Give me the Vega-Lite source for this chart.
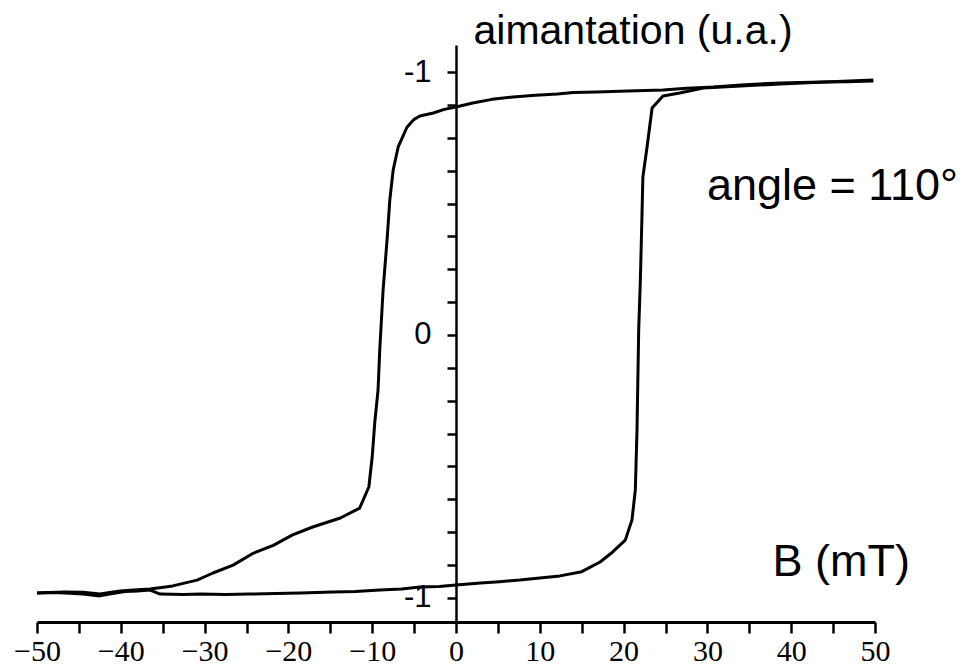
{
  "$schema": "https://vega.github.io/schema/vega-lite/v6.json",
  "width": 838,
  "height": 577,
  "autosize": {"type": "none"},
  "padding": {"left": 37, "top": 45, "right": 103, "bottom": 45},
  "background": "white",
  "config": {"view": {"stroke": null}},
  "layer": [
    {
      "data": {
        "values": [
          {"branche": "descente", "B": 49.8, "M": 0.966},
          {"branche": "descente", "B": 46.5, "M": 0.963},
          {"branche": "descente", "B": 44.0, "M": 0.962},
          {"branche": "descente", "B": 41.0, "M": 0.96},
          {"branche": "descente", "B": 38.7, "M": 0.958},
          {"branche": "descente", "B": 34.5, "M": 0.952},
          {"branche": "descente", "B": 30.7, "M": 0.943},
          {"branche": "descente", "B": 27.5, "M": 0.938},
          {"branche": "descente", "B": 24.7, "M": 0.932},
          {"branche": "descente", "B": 20.5, "M": 0.928},
          {"branche": "descente", "B": 16.8, "M": 0.924},
          {"branche": "descente", "B": 14.0, "M": 0.922},
          {"branche": "descente", "B": 12.1, "M": 0.916},
          {"branche": "descente", "B": 9.5, "M": 0.912},
          {"branche": "descente", "B": 6.8, "M": 0.905},
          {"branche": "descente", "B": 4.3, "M": 0.896},
          {"branche": "descente", "B": 2.0, "M": 0.882},
          {"branche": "descente", "B": 0.0, "M": 0.867},
          {"branche": "descente", "B": -1.4, "M": 0.858},
          {"branche": "descente", "B": -2.7, "M": 0.844},
          {"branche": "descente", "B": -4.3, "M": 0.833},
          {"branche": "descente", "B": -5.0, "M": 0.82},
          {"branche": "descente", "B": -5.85, "M": 0.79},
          {"branche": "descente", "B": -6.9, "M": 0.715},
          {"branche": "descente", "B": -7.5, "M": 0.627},
          {"branche": "descente", "B": -7.9, "M": 0.513},
          {"branche": "descente", "B": -8.2, "M": 0.373},
          {"branche": "descente", "B": -8.7, "M": 0.171},
          {"branche": "descente", "B": -9.1, "M": -0.057},
          {"branche": "descente", "B": -9.3, "M": -0.209},
          {"branche": "descente", "B": -9.7, "M": -0.335},
          {"branche": "descente", "B": -10.0, "M": -0.464},
          {"branche": "descente", "B": -10.4, "M": -0.578},
          {"branche": "descente", "B": -11.5, "M": -0.658},
          {"branche": "descente", "B": -13.8, "M": -0.696},
          {"branche": "descente", "B": -17.1, "M": -0.73},
          {"branche": "descente", "B": -19.5, "M": -0.76},
          {"branche": "descente", "B": -21.8, "M": -0.8},
          {"branche": "descente", "B": -24.2, "M": -0.83},
          {"branche": "descente", "B": -26.6, "M": -0.875},
          {"branche": "descente", "B": -29.0, "M": -0.905},
          {"branche": "descente", "B": -30.9, "M": -0.932},
          {"branche": "descente", "B": -33.8, "M": -0.954},
          {"branche": "descente", "B": -36.5, "M": -0.966},
          {"branche": "descente", "B": -38.5, "M": -0.97},
          {"branche": "descente", "B": -40.1, "M": -0.973},
          {"branche": "descente", "B": -42.5, "M": -0.985},
          {"branche": "descente", "B": -44.5, "M": -0.978},
          {"branche": "descente", "B": -46.7, "M": -0.977},
          {"branche": "descente", "B": -48.5, "M": -0.979},
          {"branche": "descente", "B": -50.0, "M": -0.981},
          {"branche": "montee", "B": -50.0, "M": -0.981},
          {"branche": "montee", "B": -48.0, "M": -0.979},
          {"branche": "montee", "B": -46.7, "M": -0.981},
          {"branche": "montee", "B": -44.5, "M": -0.985},
          {"branche": "montee", "B": -42.5, "M": -0.992},
          {"branche": "montee", "B": -41.0, "M": -0.983},
          {"branche": "montee", "B": -39.5, "M": -0.975},
          {"branche": "montee", "B": -38.0, "M": -0.973},
          {"branche": "montee", "B": -36.5, "M": -0.97},
          {"branche": "montee", "B": -35.3, "M": -0.985},
          {"branche": "montee", "B": -32.5, "M": -0.987},
          {"branche": "montee", "B": -30.5, "M": -0.985},
          {"branche": "montee", "B": -27.5, "M": -0.987},
          {"branche": "montee", "B": -24.6, "M": -0.985},
          {"branche": "montee", "B": -21.5, "M": -0.983},
          {"branche": "montee", "B": -18.6, "M": -0.981},
          {"branche": "montee", "B": -14.7, "M": -0.977},
          {"branche": "montee", "B": -12.0, "M": -0.975},
          {"branche": "montee", "B": -9.1, "M": -0.97},
          {"branche": "montee", "B": -6.5, "M": -0.966},
          {"branche": "montee", "B": -4.3, "M": -0.958},
          {"branche": "montee", "B": -2.0, "M": -0.956},
          {"branche": "montee", "B": 0.0, "M": -0.951},
          {"branche": "montee", "B": 2.9, "M": -0.943},
          {"branche": "montee", "B": 5.2, "M": -0.938},
          {"branche": "montee", "B": 7.6, "M": -0.932},
          {"branche": "montee", "B": 10.0, "M": -0.924},
          {"branche": "montee", "B": 12.4, "M": -0.916},
          {"branche": "montee", "B": 15.0, "M": -0.9},
          {"branche": "montee", "B": 17.2, "M": -0.863},
          {"branche": "montee", "B": 18.7, "M": -0.825},
          {"branche": "montee", "B": 20.2, "M": -0.78},
          {"branche": "montee", "B": 21.0, "M": -0.703},
          {"branche": "montee", "B": 21.4, "M": -0.589},
          {"branche": "montee", "B": 21.6, "M": -0.361},
          {"branche": "montee", "B": 21.8, "M": 0.019},
          {"branche": "montee", "B": 22.0, "M": 0.209},
          {"branche": "montee", "B": 22.2, "M": 0.464},
          {"branche": "montee", "B": 22.3, "M": 0.601},
          {"branche": "montee", "B": 22.8, "M": 0.715},
          {"branche": "montee", "B": 23.4, "M": 0.863},
          {"branche": "montee", "B": 24.7, "M": 0.909},
          {"branche": "montee", "B": 26.7, "M": 0.92},
          {"branche": "montee", "B": 29.5, "M": 0.939},
          {"branche": "montee", "B": 34.0, "M": 0.947},
          {"branche": "montee", "B": 38.7, "M": 0.954},
          {"branche": "montee", "B": 44.0, "M": 0.962},
          {"branche": "montee", "B": 49.8, "M": 0.97}
        ]
      },
      "mark": {"type": "line", "color": "black", "strokeWidth": 3, "strokeJoin": "round"},
      "encoding": {
        "x": {
          "field": "B",
          "type": "quantitative",
          "scale": {"domain": [-50, 50], "nice": false, "zero": false},
          "axis": {
            "values": [-50, -45, -40, -35, -30, -25, -20, -15, -10, -5, 0, 5, 10, 15, 20, 25, 30, 35, 40, 45, 50],
            "labelExpr": "datum.value % 10 == 0 ? (datum.value < 0 ? '\u2212' + abs(datum.value) : '' + datum.value) : ''",
            "labelFont": "Liberation Serif",
            "labelFontSize": 30,
            "labelColor": "black",
            "labelPadding": 3,
            "labelFlush": false,
            "labelOverlap": false,
            "tickColor": "black",
            "tickSize": 11,
            "tickWidth": 2.5,
            "domainColor": "black",
            "domainWidth": 3,
            "grid": false,
            "title": "B (mT)",
            "titleFont": "Liberation Sans",
            "titleFontSize": 45,
            "titleFontWeight": "normal",
            "titleColor": "black",
            "titleAlign": "left",
            "titleBaseline": "alphabetic",
            "titleX": 735,
            "titleY": -47
          }
        },
        "y": {
          "field": "M",
          "type": "quantitative",
          "scale": {"domain": [-1.0913, 1.1027], "nice": false, "zero": false},
          "axis": {
            "orient": "left",
            "offset": -419,
            "values": [-1, -0.875, -0.75, -0.625, -0.5, -0.375, -0.25, -0.125, 0, 0.125, 0.25, 0.375, 0.5, 0.625, 0.75, 0.875, 1],
            "tickCount": 17,
            "labelExpr": "datum.value == 0 ? '0' : (abs(datum.value) == 1 ? '-1' : '')",
            "labelFont": "Liberation Sans",
            "labelFontSize": 31,
            "labelColor": "black",
            "labelPadding": 16,
            "labelOverlap": false,
            "labelFlush": false,
            "tickColor": "black",
            "tickSize": 9,
            "tickWidth": 2.5,
            "domainColor": "black",
            "domainWidth": 2.5,
            "grid": false,
            "title": "aimantation (u.a.)",
            "titleFont": "Liberation Sans",
            "titleFontSize": 41,
            "titleFontWeight": "normal",
            "titleColor": "black",
            "titleAngle": 0,
            "titleAlign": "left",
            "titleBaseline": "alphabetic",
            "titleX": 17,
            "titleY": -2
          }
        },
        "detail": {"field": "branche"},
        "order": {"value": null}
      }
    },
    {
      "data": {"values": [{"etiquette": "angle = 110°"}]},
      "mark": {"type": "text", "font": "Liberation Sans", "fontSize": 45, "align": "left", "baseline": "alphabetic", "color": "black"},
      "encoding": {
        "text": {"field": "etiquette"},
        "x": {"datum": 29.95, "type": "quantitative"},
        "y": {"datum": 0.513, "type": "quantitative"}
      }
    }
  ]
}
